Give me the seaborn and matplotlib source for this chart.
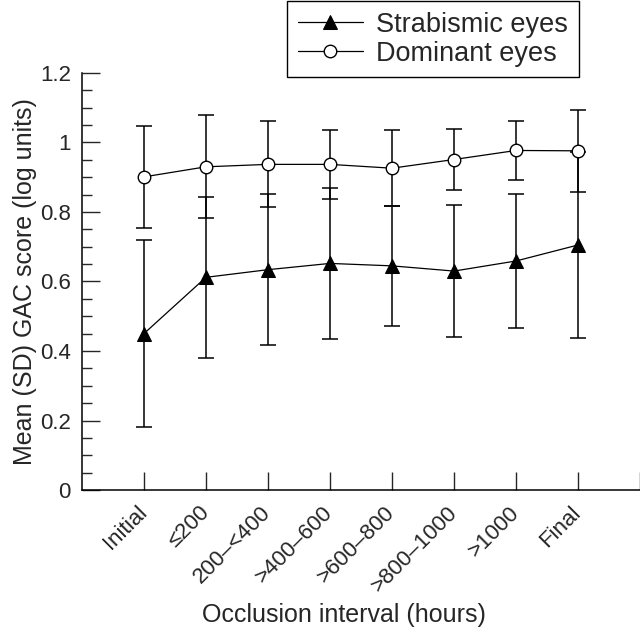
import numpy as np
import pandas as pd
import matplotlib
matplotlib.use('Agg')
import matplotlib.pyplot as plt
import seaborn as sns
from matplotlib.ticker import MultipleLocator, FormatStrFormatter

# Occlusion intervals
intervals = ['Initial', '≤200', '200–<400', '>400–600', '>600–800',
             '>800–1000', '>1000', 'Final']

# Strabismic eyes: mean and SD (log units)
strab_mean = [0.450, 0.612, 0.634, 0.652, 0.645, 0.630, 0.659, 0.705]
strab_sd = [0.268, 0.231, 0.217, 0.217, 0.173, 0.190, 0.192, 0.268]

# Dominant eyes: mean and SD (log units)
dom_mean = [0.901, 0.930, 0.937, 0.937, 0.926, 0.951, 0.977, 0.976]
dom_sd = [0.146, 0.148, 0.124, 0.099, 0.109, 0.089, 0.084, 0.118]

pos = np.arange(len(intervals))
df = pd.DataFrame({'pos': pos, 'strab': strab_mean, 'dom': dom_mean})

sns.set_style('ticks')
plt.rcParams['font.family'] = ['Liberation Sans', 'DejaVu Sans']

fig = plt.figure(figsize=(6.4, 6.34), dpi=100)
ax = fig.add_axes([0.128, 0.2271, 0.872, 0.6578])

# error bars first, so the markers sit on top
ax.errorbar(pos, strab_mean, yerr=strab_sd, fmt='none', ecolor='black',
            elinewidth=1.1, capsize=6, capthick=1.1, zorder=1)
ax.errorbar(pos, dom_mean, yerr=dom_sd, fmt='none', ecolor='black',
            elinewidth=1.1, capsize=6, capthick=1.1, zorder=1)

sns.lineplot(data=df, x='pos', y='strab', ax=ax, color='black', lw=0.9,
             marker='^', markersize=10, markerfacecolor='black',
             markeredgecolor='black', label='Strabismic eyes', zorder=3)
sns.lineplot(data=df, x='pos', y='dom', ax=ax, color='black', lw=0.9,
             marker='o', markersize=9, markerfacecolor='white',
             markeredgecolor='black', markeredgewidth=1.0,
             label='Dominant eyes', zorder=4)

ax.set_xlim(-1, 8)
ax.set_ylim(0, 1.2)
ax.set_xticks(list(pos) + [8])
ax.set_xticklabels(intervals + [''], rotation=45, ha='right', va='center',
                   rotation_mode='anchor', fontsize=16)
ax.yaxis.set_major_locator(MultipleLocator(0.2))
ax.yaxis.set_minor_locator(MultipleLocator(0.05))
ax.yaxis.set_major_formatter(FormatStrFormatter('%g'))
ax.tick_params(axis='y', direction='in', length=13, width=1, labelsize=16, pad=8)
ax.tick_params(axis='y', which='minor', direction='in', length=7, width=1)
ax.tick_params(axis='x', direction='in', length=13, width=1, pad=14)

for s in ['top', 'right']:
    ax.spines[s].set_visible(False)
for s in ['left', 'bottom']:
    ax.spines[s].set_linewidth(1.1)
    ax.spines[s].set_color('black')

ax.set_xlabel('Occlusion interval (hours)', fontsize=18)
ax.xaxis.set_label_coords((344 - 82) / 558, -0.27)
ax.set_ylabel('Mean (SD) GAC score (log units)', fontsize=18)
ax.yaxis.set_label_coords(-0.081, 0.5)

leg = ax.legend(loc='upper left', bbox_to_anchor=(287 / 640, 1 - 1 / 634),
                bbox_transform=fig.transFigure, fontsize=19.5, frameon=True,
                fancybox=False, edgecolor='black', framealpha=1,
                handlelength=2.4, handletextpad=0.5, labelspacing=0.1,
                borderpad=0.4, borderaxespad=0)
leg.get_frame().set_linewidth(1.0)

fig.savefig('out.png', dpi=100)
